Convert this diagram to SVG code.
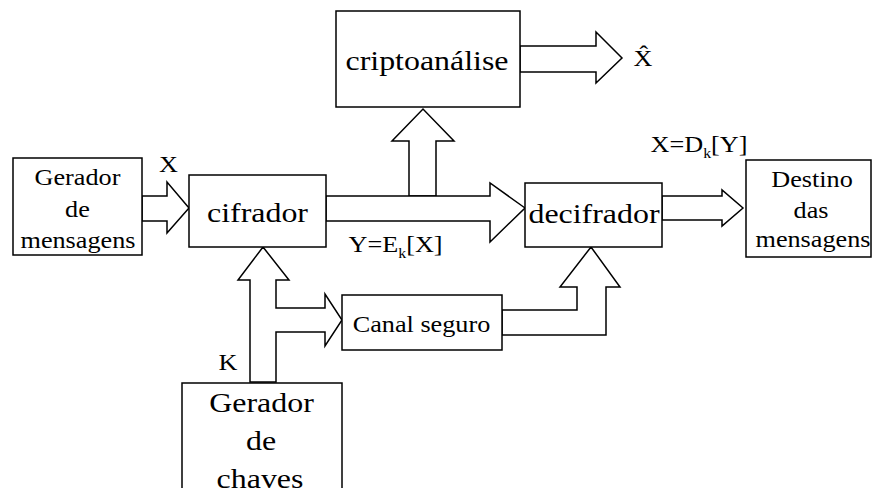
<svg xmlns="http://www.w3.org/2000/svg" width="873" height="488" viewBox="0 0 873 488">
  <style>
    .box { fill: #ffffff; stroke: #000000; stroke-width: 1.5; }
    .arrow { fill: #ffffff; stroke: #000000; stroke-width: 1.5; stroke-linejoin: miter; }
    text { font-family: "Liberation Serif", "Times New Roman", "DejaVu Serif", serif; fill: #000000; text-anchor: middle; }
    .big { font-size: 28px; }
    .mid { font-size: 23px; }
    .sub { font-size: 14px; }
  </style>
  <rect width="873" height="488" fill="#ffffff"/>

  <!-- block arrows between the blocks -->
  <g id="connectors">
    <polygon class="arrow" points="142,196 167,196 167,182 189,208 167,233 167,221 142,221"/>
    <polygon class="arrow" points="409,196 409,141 392,141 423,109 454,141 436,141 436,196"/>
    <polygon class="arrow" points="326,196 490,196 490,183 525,208 490,242 490,221 326,221"/>
    <polygon class="arrow" points="520,46 596,46 596,32 622,58 596,83 596,72 520,72"/>
    <polygon class="arrow" points="662,196 722,196 722,190 743,208 722,226 722,220 662,220"/>
    <polygon class="arrow" points="250,382 250,280 238,280 263,247 289,280 276,280 276,308 325,308 325,294 342,320 325,346 325,332 276,332 276,382"/>
    <polygon class="arrow" points="502,310 577,310 577,287 560,287 591,247 620,287 606,287 606,335 502,335"/>
  </g>

  <!-- all lettering is widened a little (scale 1.14 horizontally) -->
  <g id="gerador-mensagens">
    <rect class="box" x="13" y="158" width="129" height="97"/>
    <text class="mid" transform="translate(77.5 185) scale(1.14 1)">Gerador</text>
    <text class="mid" transform="translate(77.5 217) scale(1.14 1)">de</text>
    <text class="mid" transform="translate(78 248) scale(1.14 1)">mensagens</text>
  </g>

  <g id="cifrador">
    <rect class="box" x="189" y="175" width="137" height="72"/>
    <text class="big" transform="translate(257.5 222) scale(1.14 1)">cifrador</text>
  </g>

  <g id="criptoanalise">
    <rect class="box" x="336" y="11" width="184" height="96"/>
    <text class="big" transform="translate(427 70) scale(1.14 1)">criptoanálise</text>
  </g>

  <g id="decifrador">
    <rect class="box" x="525" y="183" width="137" height="64"/>
    <text class="big" transform="translate(594 223) scale(1.14 1)">decifrador</text>
  </g>

  <g id="destino">
    <rect class="box" x="746" y="160" width="125" height="97"/>
    <text class="mid" transform="translate(812 187) scale(1.14 1)">Destino</text>
    <text class="mid" transform="translate(811 218) scale(1.14 1)">das</text>
    <text class="mid" transform="translate(813 247) scale(1.14 1)">mensagens</text>
  </g>

  <g id="canal-seguro">
    <rect class="box" x="342" y="295" width="160" height="55"/>
    <text class="mid" transform="translate(421.5 332) scale(1.14 1)">Canal seguro</text>
  </g>

  <g id="gerador-chaves">
    <rect class="box" x="182" y="383" width="160" height="120"/>
    <text class="big" transform="translate(261.5 412) scale(1.14 1)">Gerador</text>
    <text class="big" transform="translate(261 450) scale(1.14 1)">de</text>
    <text class="big" transform="translate(260 488) scale(1.14 1)">chaves</text>
  </g>

  <!-- signal labels -->
  <g id="labels">
    <text class="mid" transform="translate(168.5 172) scale(1.14 1)">X</text>
    <text class="mid" transform="translate(228 370) scale(1.14 1)">K</text>
    <text class="mid" transform="translate(395.5 252) scale(1.14 1)">Y=E<tspan class="sub" dy="6">k</tspan><tspan dy="-6">[X]</tspan></text>
    <text class="mid" transform="translate(699 152) scale(1.14 1)">X=D<tspan class="sub" dy="6">k</tspan><tspan dy="-6">[Y]</tspan></text>
    <text class="mid" transform="translate(643 66) scale(1.14 1)">X&#x302;</text>
  </g>
</svg>
